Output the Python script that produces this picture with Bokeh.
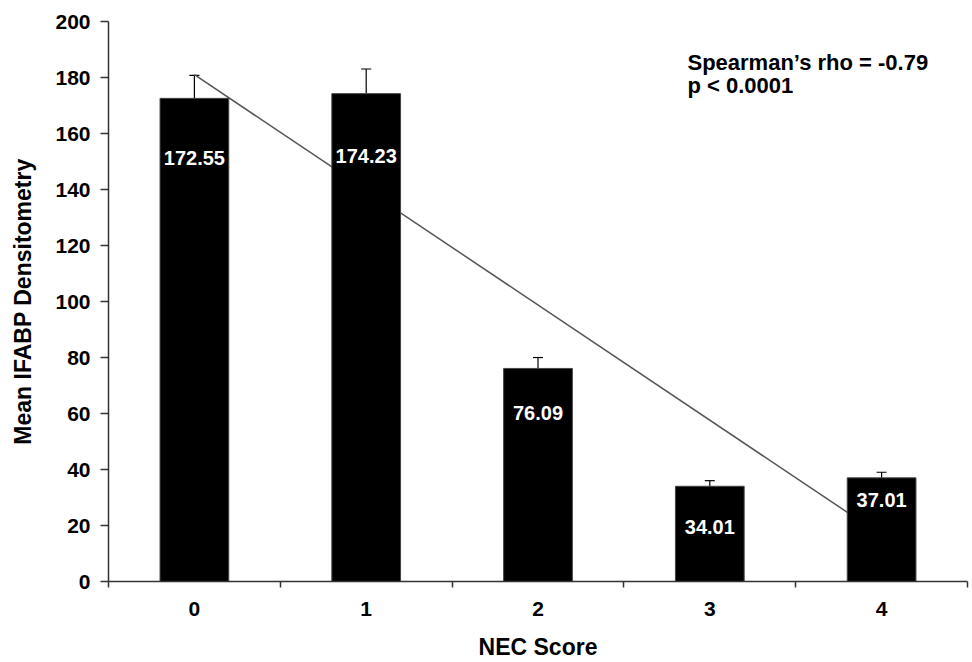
from bokeh.plotting import figure
from bokeh.models import (ColumnDataSource, Range1d, FixedTicker, Whisker,
                          TeeHead, Label)
from bokeh.core.properties import value
from bokeh.embed import file_html
from bokeh.resources import INLINE

# NEC score groups and mean IFABP densitometry (with upper error)
nec_scores = ["0", "1", "2", "3", "4"]
mean_ifabp = [172.55, 174.23, 76.09, 34.01, 37.01]
error_ifabp = [8.2, 8.8, 3.9, 2.0, 2.0]

# straight trend line across the score range
trend_x = [0, 4]
trend_y = [181.0, 16.5]

y_tick_values = [0, 20, 40, 60, 80, 100, 120, 140, 160, 180, 200]

FONT = "Liberation Sans"

xs = list(range(len(nec_scores)))
src = ColumnDataSource(dict(
    x=xs,
    mean=mean_ifabp,
    upper=[m + e for m, e in zip(mean_ifabp, error_ifabp)],
    label=[f"{m:.2f}" for m in mean_ifabp],
    # how far each value label sits below its bar top, in pixels
    label_dy=[60, 62, 45, 41, 22],
))

p = figure(width=972, height=662, output_backend="svg", toolbar_location=None,
           x_range=Range1d(-0.5, 4.5), y_range=Range1d(0, 200))
p.min_border_left = 108
p.min_border_right = 5
p.min_border_top = 21
p.min_border_bottom = 81
p.outline_line_color = None
p.grid.visible = False
p.background_fill_color = "white"
p.border_fill_color = "white"

# trend line sits behind the bars
p.line(trend_x, trend_y, line_color="#555555", line_width=1.5)

p.vbar(x="x", top="mean", width=0.4, source=src,
       fill_color="black", line_color="#444444", line_width=1)

p.add_layout(Whisker(base="x", lower="mean", upper="upper", source=src,
                     line_color="black", line_width=1.2,
                     upper_head=TeeHead(size=10, line_color="black", line_width=1.2),
                     lower_head=None))

p.text(x="x", y="mean", text="label", y_offset="label_dy", source=src,
       text_color="white", text_font=value(FONT), text_font_style="bold",
       text_font_size="20px", text_align="center", text_baseline="middle")

# x axis: labels under bar centres, ticks on the group boundaries
xa = p.xaxis[0]
xa.ticker = FixedTicker(ticks=xs, minor_ticks=[i - 0.5 for i in range(len(xs) + 1)])
xa.major_label_overrides = {i: s for i, s in enumerate(nec_scores)}
xa.major_tick_out = 0
xa.major_tick_in = 0
xa.minor_tick_out = 6
xa.minor_tick_in = 0
xa.minor_tick_line_color = "#333333"
xa.minor_tick_line_width = 1.5
xa.axis_line_color = "#333333"
xa.axis_line_width = 1.5
xa.major_label_standoff = 14
xa.major_label_text_font = FONT
xa.major_label_text_font_style = "bold"
xa.major_label_text_font_size = "21px"
xa.major_label_text_color = "black"
xa.axis_label = "NEC Score"
xa.axis_label_text_font = FONT
xa.axis_label_text_font_style = "bold"
xa.axis_label_text_font_size = "23px"
xa.axis_label_text_color = "black"
xa.axis_label_standoff = 15

ya = p.yaxis[0]
ya.ticker = FixedTicker(ticks=y_tick_values, minor_ticks=[])
ya.major_tick_out = 8
ya.major_tick_in = 0
ya.major_tick_line_color = "#333333"
ya.major_tick_line_width = 1.5
ya.axis_line_color = "#333333"
ya.axis_line_width = 1.5
ya.major_label_standoff = 10
ya.major_label_text_font = FONT
ya.major_label_text_font_style = "bold"
ya.major_label_text_font_size = "21px"
ya.major_label_text_color = "black"
ya.axis_label = "Mean IFABP Densitometry"
ya.axis_label_text_font = FONT
ya.axis_label_text_font_style = "bold"
ya.axis_label_text_font_size = "23px"
ya.axis_label_text_color = "black"
ya.axis_label_standoff = 16

for txt, yv in [("Spearman\u2019s rho = -0.79", 185.4), ("p < 0.0001", 177.1)]:
    p.add_layout(Label(x=2.87, y=yv, text=txt, text_font=FONT,
                       text_font_style="bold", text_font_size="22px",
                       text_color="black", text_baseline="alphabetic"))

open("out.html", "w").write(file_html(p, INLINE))
